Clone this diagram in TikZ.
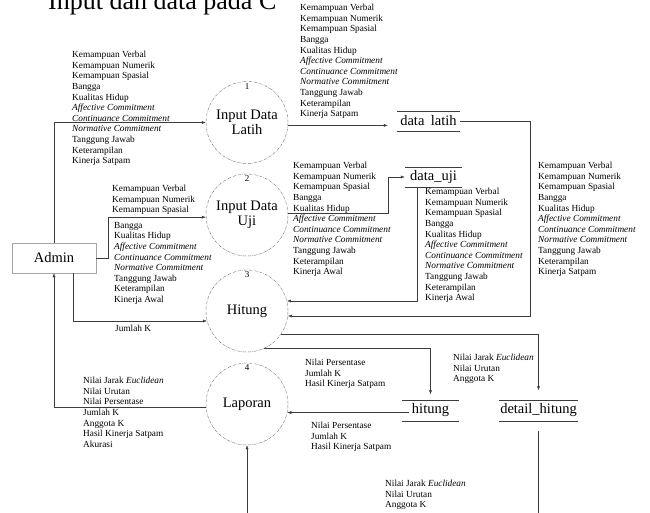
\documentclass[tikz,border=0pt]{standalone}
\usepackage{fontspec}
\setmainfont{Liberation Serif}
\usetikzlibrary{calc,arrows.meta}
\definecolor{lineg}{RGB}{60, 60, 60}
\definecolor{circg}{RGB}{120, 120, 120}
\definecolor{boxg}{RGB}{165, 165, 165}
\newcommand{\lst}{\fontsize{9.3}{10.6}\selectfont}

\begin{document}
\begin{tikzpicture}[x=1pt, y=-1pt,
    proc/.style={circle, draw=circg, densely dash dot, thin,
                 minimum size=82pt, inner sep=0pt, align=center,
                 font=\fontsize{14.5}{15}\selectfont},
    ent/.style={rectangle, draw=boxg, thin, minimum width=84pt,
                minimum height=30pt, font=\fontsize{14.5}{15}\selectfont},
    store/.style={inner sep=0pt, minimum height=20pt,
                  font=\fontsize{14.5}{15}\selectfont},
    num/.style={anchor=north, inner sep=2pt, font=\fontsize{9}{9}\selectfont},
    txt/.style={anchor=north west, inner sep=0pt, align=left, font=\lst},
    arr/.style={-{Latex[length=4pt, width=3pt]}, thin, color=lineg}]

    \clip (0,0) rectangle (650,512);

    % Judul (terpotong)
    \node[anchor=base west, inner sep=0pt, font=\fontsize{26}{26}\selectfont]
        (judul) at (48,9) {Input dan data pada C};

    % Entitas dan proses
    \node[ent] (admin) at (54,258) {Admin};
    \node[proc, label={[num]north:1}] (pLatih)   at (247,122.5) {Input Data\\Latih};
    \node[proc, label={[num]north:2}] (pUji)     at (247,215)   {Input Data\\Uji};
    \node[proc, label={[num]north:3}] (pHitung)  at (247,311)   {Hitung};
    \node[proc, label={[num]north:4}] (pLaporan) at (247,404)   {Laporan};

    % Data store
    \node[store, minimum width=63pt] (dLatih)  at (428.5,121)   {data\hspace{0.45em}latih};
    \node[store, minimum width=57pt] (dUji)    at (433.5,177)   {data\_uji};
    \node[store, minimum width=57pt] (dHitung) at (430.5,410.5) {hitung};
    \node[store, minimum width=79pt] (dDetail) at (538.5,410.5) {detail\_hitung};
    \foreach \s in {dLatih,dUji,dHitung,dDetail}
        \draw[lineg, thin] (\s.north west) -- (\s.north east)
                           (\s.south west) -- (\s.south east);

    % Admin -> Input Data Latih
    \draw[arr] (admin.north) |- (pLatih.west);
    \node[txt] (t1) at (72,51) {Kemampuan Verbal\\Kemampuan Numerik\\
        Kemampuan Spasial\\Bangga\\Kualitas Hidup\\\textit{Affective Commitment}\\
        \textit{Continuance Commitment}\\\textit{Normative Commitment}\\
        Tanggung Jawab\\Keterampilan\\Kinerja Satpam};

    % Input Data Latih -> data latih
    \draw[arr, shorten >=9pt] (pLatih.-4) -- (pLatih.-4 -| dLatih.west);
    \node[txt] (t2) at (300,4) {Kemampuan Verbal\\Kemampuan Numerik\\
        Kemampuan Spasial\\Bangga\\Kualitas Hidup\\\textit{Affective Commitment}\\
        \textit{Continuance Commitment}\\\textit{Normative Commitment}\\
        Tanggung Jawab\\Keterampilan\\Kinerja Satpam};

    % data latih -> Hitung
    \draw[arr] (dLatih.east) -- ++(70,0) |- (pHitung.-7);
    \node[txt] (t3) at (538,162) {Kemampuan Verbal\\Kemampuan Numerik\\
        Kemampuan Spasial\\Bangga\\Kualitas Hidup\\\textit{Affective Commitment}\\
        \textit{Continuance Commitment}\\\textit{Normative Commitment}\\
        Tanggung Jawab\\Keterampilan\\Kinerja Satpam};

    % Admin -> Input Data Uji
    \draw[arr] (admin.east) -- ++(12,0) |- (pUji.183);
    \node[txt] (t4a) at (112,185) {Kemampuan Verbal\\Kemampuan Numerik\\
        Kemampuan Spasial};
    \node[txt] (t4b) at (114,222) {Bangga\\Kualitas Hidup\\
        \textit{Affective Commitment}\\\textit{Continuance Commitment}\\
        \textit{Normative Commitment}\\Tanggung Jawab\\Keterampilan\\Kinerja Awal};

    % Input Data Uji -> data_uji
    \draw[arr] (pUji.3) -- ++(100,0) |- (dUji.west);
    \node[txt] (t5) at (293,162) {Kemampuan Verbal\\Kemampuan Numerik\\
        Kemampuan Spasial\\Bangga\\Kualitas Hidup\\\textit{Affective Commitment}\\
        \textit{Continuance Commitment}\\\textit{Normative Commitment}\\
        Tanggung Jawab\\Keterampilan\\Kinerja Awal};

    % data_uji -> Hitung
    \draw[arr] ([xshift=12pt]dUji.south west) |- (pHitung.14);
    \node[txt] (t6) at (425,188) {Kemampuan Verbal\\Kemampuan Numerik\\
        Kemampuan Spasial\\Bangga\\Kualitas Hidup\\\textit{Affective Commitment}\\
        \textit{Continuance Commitment}\\\textit{Normative Commitment}\\
        Tanggung Jawab\\Keterampilan\\Kinerja Awal};

    % Admin -> Hitung
    \draw[arr] ([xshift=19pt]admin.south) |- (pHitung.194);
    \node[txt] (t7) at (115,325) {Jumlah K};

    % Hitung -> detail_hitung
    \draw[arr, shorten >=10pt] (pHitung.-34) -| (dDetail.north);
    \node[txt] (t8) at (453,354) {Nilai Jarak \textit{Euclidean}\\Nilai Urutan\\
        Anggota K};

    % Hitung -> hitung
    \draw[arr, shorten >=6pt] (pHitung.-65) -| (dHitung.north);
    \node[txt] (t9) at (305,359) {Nilai Persentase\\Jumlah K\\Hasil Kinerja Satpam};

    % hitung -> Laporan
    \draw[arr, shorten <=-7pt] (pLaporan.-12 -| dHitung.west) -- (pLaporan.-12);
    \node[txt] (t10) at (311,422) {Nilai Persentase\\Jumlah K\\Hasil Kinerja Satpam};

    % Laporan -> Admin
    \draw[arr] (pLaporan.184) -| (admin.south);
    \node[txt] (t11) at (83,377) {Nilai Jarak \textit{Euclidean}\\Nilai Urutan\\
        Nilai Persentase\\Jumlah K\\Anggota K\\Hasil Kinerja Satpam\\Akurasi};

    % detail_hitung -> Laporan
    \coordinate (bawah) at (247,530);
    \draw[arr] ([yshift=-10pt]dDetail.south) |- (bawah) -- (pLaporan.south);
    \node[txt] (t12) at (385,480) {Nilai Jarak \textit{Euclidean}\\Nilai Urutan\\
        Anggota K};

\end{tikzpicture}
\end{document}
